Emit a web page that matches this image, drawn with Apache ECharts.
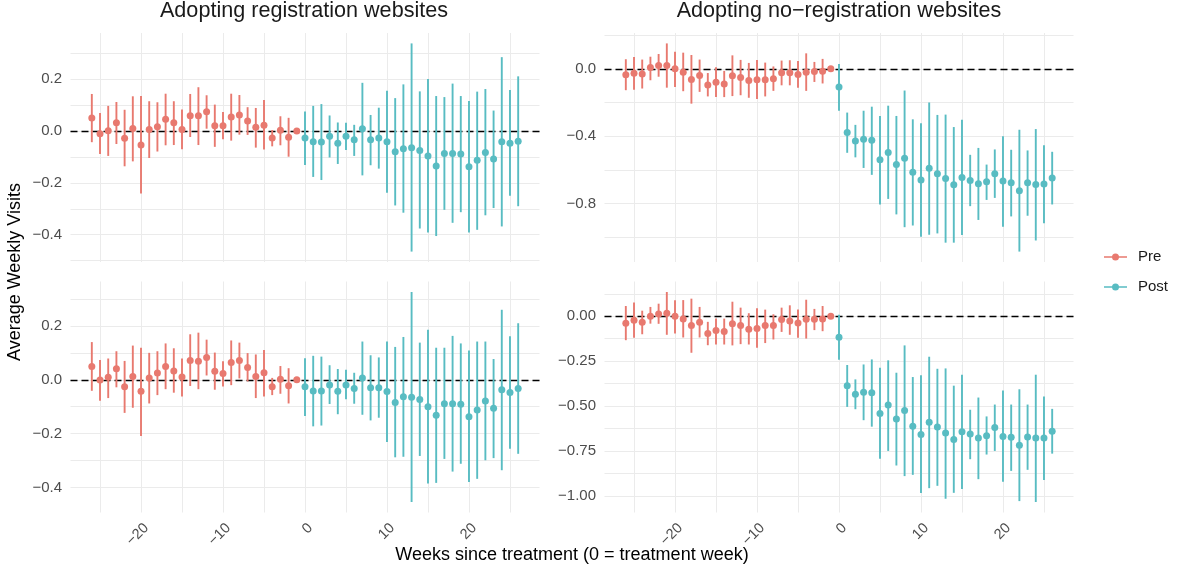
<!DOCTYPE html>
<html><head><meta charset="utf-8">
<script src="https://cdn.jsdelivr.net/npm/echarts@6/dist/echarts.min.js"></script>
<style>html,body{margin:0;padding:0;background:#fff}#c{width:1177px;height:572px}</style>
</head><body><div id="c"></div>
<script>
const weeks = [-26,-25,-24,-23,-22,-21,-20,-19,-18,-17,-16,-15,-14,-13,-12,-11,-10,-9,-8,-7,-6,-5,-4,-3,-2,-1,
  0,1,2,3,4,5,6,7,8,9,10,11,12,13,14,15,16,17,18,19,20,21,22,23,24,25,26];

// Top-left: Adopting registration websites (panel 1)
const regTopEst = [0.050,-0.010,0.001,0.032,-0.028,0.010,-0.054,0.006,0.017,0.045,0.032,0.006,0.059,0.059,0.074,0.020,0.020,0.054,0.062,0.039,0.015,0.022,-0.027,0.003,-0.024,0,
  -0.027,-0.041,-0.042,-0.020,-0.047,-0.020,-0.034,0.009,-0.034,-0.027,-0.041,-0.080,-0.068,-0.064,-0.075,-0.096,-0.135,-0.087,-0.087,-0.089,-0.138,-0.113,-0.083,-0.108,-0.041,-0.047,-0.039];
const regTopLo = [-0.043,-0.089,-0.096,-0.050,-0.136,-0.117,-0.241,-0.104,-0.079,-0.055,-0.054,-0.070,-0.023,-0.054,0.009,-0.061,-0.032,-0.037,-0.014,-0.015,-0.064,-0.071,-0.059,-0.055,-0.099,0,
  -0.131,-0.177,-0.189,-0.102,-0.127,-0.073,-0.096,-0.171,-0.132,-0.145,-0.238,-0.287,-0.315,-0.465,-0.376,-0.391,-0.405,-0.304,-0.354,-0.313,-0.391,-0.381,-0.325,-0.297,-0.368,-0.250,-0.290];
const regTopHi = [0.143,0.070,0.097,0.112,0.082,0.134,0.135,0.115,0.111,0.144,0.115,0.083,0.143,0.169,0.138,0.102,0.073,0.144,0.139,0.092,0.089,0.120,0.004,0.057,0.051,0,
  0.075,0.097,0.104,0.060,0.033,0.032,0.024,0.186,0.062,0.090,0.155,0.127,0.180,0.338,0.153,0.201,0.135,0.131,0.183,0.135,0.116,0.152,0.162,0.079,0.285,0.158,0.211];

// Top-right: Adopting no-registration websites (panel 2)
const noregTopEst = [-0.035,-0.027,-0.031,0.008,0.020,0.020,0.000,-0.020,-0.063,-0.039,-0.096,-0.080,-0.090,-0.041,-0.051,-0.070,-0.065,-0.065,-0.059,-0.023,-0.023,-0.033,-0.020,-0.016,-0.014,0,
  -0.108,-0.378,-0.429,-0.419,-0.425,-0.540,-0.497,-0.569,-0.532,-0.614,-0.661,-0.591,-0.624,-0.652,-0.689,-0.646,-0.663,-0.683,-0.671,-0.624,-0.667,-0.677,-0.724,-0.677,-0.687,-0.685,-0.648];
const noregTopLo = [-0.127,-0.125,-0.117,-0.068,-0.047,-0.112,-0.108,-0.133,-0.207,-0.137,-0.164,-0.168,-0.168,-0.162,-0.157,-0.172,-0.180,-0.164,-0.131,-0.098,-0.098,-0.112,-0.131,-0.078,-0.087,0,
  -0.249,-0.499,-0.526,-0.589,-0.630,-0.806,-0.773,-0.865,-0.941,-0.931,-0.998,-0.986,-0.978,-1.033,-1.033,-0.988,-0.816,-0.898,-0.779,-0.767,-0.939,-0.877,-1.086,-0.873,-1.020,-0.918,-0.806];
const noregTopHi = [0.057,0.070,0.055,0.072,0.088,0.151,0.102,0.096,0.082,0.055,-0.025,0.010,-0.012,0.080,0.053,0.035,0.053,0.037,0.014,0.049,0.051,0.047,0.092,0.041,0.059,0,
  0.029,-0.260,-0.333,-0.249,-0.225,-0.280,-0.219,-0.280,-0.129,-0.300,-0.323,-0.200,-0.274,-0.272,-0.346,-0.303,-0.511,-0.470,-0.569,-0.479,-0.401,-0.481,-0.362,-0.485,-0.358,-0.454,-0.493];

// Bottom-left: Adopting registration websites (panel 3)
const regBotEst = [0.049,-0.001,0.009,0.041,-0.026,0.012,-0.043,0.007,0.025,0.049,0.033,0.010,0.072,0.069,0.083,0.032,0.023,0.064,0.072,0.046,0.012,0.026,-0.026,0.002,-0.022,0,
  -0.026,-0.042,-0.042,-0.019,-0.043,-0.019,-0.032,0.007,-0.030,-0.030,-0.044,-0.084,-0.063,-0.065,-0.073,-0.100,-0.132,-0.089,-0.089,-0.091,-0.137,-0.112,-0.079,-0.106,-0.037,-0.047,-0.032];
const regBotLo = [-0.041,-0.078,-0.068,-0.028,-0.123,-0.104,-0.209,-0.088,-0.057,-0.035,-0.048,-0.062,-0.023,-0.035,0.016,-0.037,-0.025,-0.020,0.005,-0.006,-0.068,-0.062,-0.057,-0.052,-0.088,0,
  -0.135,-0.173,-0.170,-0.090,-0.128,-0.072,-0.089,-0.130,-0.151,-0.141,-0.231,-0.288,-0.286,-0.454,-0.283,-0.385,-0.383,-0.294,-0.341,-0.312,-0.380,-0.368,-0.299,-0.291,-0.336,-0.256,-0.275];
const regBotHi = [0.140,0.073,0.079,0.106,0.070,0.127,0.119,0.100,0.106,0.135,0.117,0.079,0.169,0.175,0.149,0.101,0.069,0.146,0.138,0.099,0.094,0.111,0.007,0.051,0.043,0,
  0.080,0.089,0.086,0.054,0.040,0.037,0.026,0.142,0.091,0.083,0.142,0.122,0.159,0.326,0.138,0.186,0.119,0.119,0.163,0.135,0.109,0.142,0.142,0.077,0.260,0.162,0.210];

// Bottom-right: Adopting no-registration websites (panel 4)
const noregBotEst = [-0.039,-0.022,-0.033,0.000,0.013,0.017,0.000,-0.015,-0.052,-0.033,-0.096,-0.079,-0.085,-0.042,-0.052,-0.072,-0.068,-0.052,-0.052,-0.018,-0.026,-0.037,-0.017,-0.017,-0.015,0,
  -0.116,-0.386,-0.434,-0.423,-0.426,-0.541,-0.494,-0.572,-0.524,-0.611,-0.657,-0.590,-0.616,-0.649,-0.685,-0.642,-0.655,-0.677,-0.664,-0.618,-0.668,-0.673,-0.718,-0.672,-0.677,-0.677,-0.640];
const noregBotLo = [-0.133,-0.120,-0.100,-0.041,-0.042,-0.103,-0.096,-0.118,-0.203,-0.118,-0.161,-0.157,-0.157,-0.162,-0.155,-0.157,-0.175,-0.149,-0.129,-0.087,-0.103,-0.120,-0.124,-0.077,-0.083,0,
  -0.242,-0.504,-0.517,-0.578,-0.614,-0.793,-0.749,-0.830,-0.889,-0.882,-0.983,-0.956,-0.943,-1.015,-0.982,-0.961,-0.795,-0.906,-0.769,-0.749,-0.921,-0.860,-1.028,-0.854,-1.033,-0.910,-0.764];
const noregBotHi = [0.057,0.077,0.031,0.052,0.070,0.135,0.089,0.090,0.098,0.052,-0.031,-0.013,-0.013,0.081,0.048,0.017,0.044,0.037,0.011,0.048,0.061,0.037,0.092,0.041,0.057,0,
  0.009,-0.271,-0.351,-0.268,-0.240,-0.286,-0.245,-0.314,-0.162,-0.338,-0.328,-0.225,-0.292,-0.290,-0.386,-0.325,-0.520,-0.452,-0.557,-0.491,-0.413,-0.491,-0.406,-0.491,-0.325,-0.446,-0.515];

const panelTitles = ['Adopting registration websites', 'Adopting no\u2212registration websites'];
const groupNames = ['Pre', 'Post'];
const xLabelTicks = [-20, -10, 0, 10, 20];
const xGridTicks = [-25, -20, -15, -10, -5, 0, 5, 10, 15, 20, 25];
const yLabelTicksTL = [-0.4, -0.2, 0, 0.2];
const yGridTicksTL = [-0.5, -0.4, -0.3, -0.2, -0.1, 0, 0.1, 0.2, 0.3];
const yLabelTicksTR = [-0.8, -0.4, 0];
const yGridTicksTR = [-1.0, -0.8, -0.6, -0.4, -0.2, 0, 0.2];
const yLabelTicksBL = [-0.4, -0.2, 0, 0.2];
const yGridTicksBL = [-0.4, -0.3, -0.2, -0.1, 0, 0.1, 0.2, 0.3];
const yLabelTicksBR = [-1.0, -0.75, -0.5, -0.25, 0];
const yGridTicksBR = [-1.0, -0.875, -0.75, -0.625, -0.5, -0.375, -0.25, -0.125, 0, 0.125];

const FONT = "'Liberation Sans', Arial, Helvetica, sans-serif";
const COL_PRE = '#E8796F';
const COL_POST = '#58BCC2';
const GRIDCOL = '#EBEBEB';
const TXT = '#4D4D4D';

const panels = [
  {est: regTopEst, lo: regTopLo, hi: regTopHi, grid: {left: 70.5, top: 33, width: 469, height: 229}, yl: yLabelTicksTL, yg: yGridTicksTL, dec: 1, xlab: false},
  {est: noregTopEst, lo: noregTopLo, hi: noregTopHi, grid: {left: 604.5, top: 33, width: 469, height: 229}, yl: yLabelTicksTR, yg: yGridTicksTR, dec: 1, xlab: false},
  {est: regBotEst, lo: regBotLo, hi: regBotHi, grid: {left: 70.5, top: 281.5, width: 469, height: 231}, yl: yLabelTicksBL, yg: yGridTicksBL, dec: 1, xlab: true},
  {est: noregBotEst, lo: noregBotLo, hi: noregBotHi, grid: {left: 604.5, top: 281.5, width: 469, height: 231}, yl: yLabelTicksBR, yg: yGridTicksBR, dec: 2, xlab: true}
];

const minus = s => String(s).replace(/-/g, '\u2212');
const xSpan = weeks[weeks.length - 1] - weeks[0];
const xMin = weeks[0] - 0.05 * xSpan, xMax = weeks[weeks.length - 1] + 0.05 * xSpan;

const grids = [], xAxes = [], yAxes = [], series = [];
panels.forEach((p, i) => {
  grids.push(Object.assign({containLabel: false}, p.grid));
  const lo = Math.min(...p.lo, ...p.est), hi = Math.max(...p.hi, ...p.est);
  const span = hi - lo;
  xAxes.push({
    type: 'value', gridIndex: i, min: xMin, max: xMax,
    axisLine: {show: false}, axisTick: {show: false, customValues: xGridTicks},
    splitLine: {show: true, lineStyle: {color: GRIDCOL, width: 1}},
    axisLabel: {show: p.xlab, customValues: xLabelTicks, rotate: 45, margin: 8, verticalAlign: 'top', color: TXT, fontSize: 14.5, fontFamily: FONT, formatter: v => minus(v)}
  });
  yAxes.push({
    type: 'value', gridIndex: i, min: lo - 0.05 * span, max: hi + 0.05 * span,
    axisLine: {show: false}, axisTick: {show: false, customValues: p.yg},
    splitLine: {show: true, lineStyle: {color: GRIDCOL, width: 1}},
    axisLabel: {show: true, customValues: p.yl, margin: 8.5, color: TXT, fontSize: 15, fontFamily: FONT, formatter: v => minus(Number(v).toFixed(p.dec))}
  });
  const rows = weeks.map((w, k) => [w, p.lo[k], p.hi[k], p.est[k]]);
  const groups = [rows.filter(r => r[0] < 0), rows.filter(r => r[0] >= 0)];
  groups.forEach((data, g) => {
    const col = g === 0 ? COL_PRE : COL_POST;
    const bar = {
      name: groupNames[g], type: 'custom', xAxisIndex: i, yAxisIndex: i, data: data,
      encode: {x: 0, y: [1, 2]}, itemStyle: {color: col}, z: 3, silent: true,
      renderItem: (params, api) => {
        const a = api.coord([api.value(0), api.value(1)]);
        const b = api.coord([api.value(0), api.value(2)]);
        return {type: 'line', shape: {x1: a[0], y1: a[1], x2: b[0], y2: b[1]}, style: {stroke: col, lineWidth: 1.9}};
      }
    };
    if (g === 0) {
      bar.markLine = {
        silent: true, symbol: ['none', 'none'], label: {show: false}, z: 2,
        lineStyle: {color: '#000', type: [7, 4], width: 1.4},
        data: [{yAxis: 0}]
      };
    }
    series.push(bar);
    series.push({
      name: groupNames[g], type: 'scatter', xAxisIndex: i, yAxisIndex: i,
      data: data.map(r => [r[0], r[3]]), symbol: 'circle', symbolSize: 7,
      itemStyle: {color: col, opacity: 1}, z: 4, silent: true
    });
  });
});

const chart = echarts.init(document.getElementById('c'), null, {renderer: 'canvas'});
chart.setOption({
  animation: false,
  backgroundColor: '#fff',
  grid: grids, xAxis: xAxes, yAxis: yAxes, series: series,
  legend: {
    data: groupNames, orient: 'vertical', left: 1104, top: 249.5, padding: 0,
    itemWidth: 23, itemHeight: 7, itemGap: 15,
    icon: 'path://M0,3.3H23V4.7H0Z M15,4A3.5,3.5,0,1,1,8,4A3.5,3.5,0,1,1,15,4Z',
    textStyle: {fontSize: 15, fontFamily: FONT, color: '#1A1A1A', padding: [0, 0, 0, 6]},
    selectedMode: false
  },
  graphic: [
    {type: 'text', x: 304, y: 11, style: {text: panelTitles[0], align: 'center', verticalAlign: 'middle', fontSize: 21.6, fontFamily: FONT, fill: '#1A1A1A'}},
    {type: 'text', x: 839, y: 11, style: {text: panelTitles[1], align: 'center', verticalAlign: 'middle', fontSize: 21.6, fontFamily: FONT, fill: '#1A1A1A'}},
    {type: 'text', x: 572, y: 555, style: {text: 'Weeks since treatment (0 = treatment week)', align: 'center', verticalAlign: 'middle', fontSize: 18, fontFamily: FONT, fill: '#000'}},
    {type: 'text', x: 15, y: 272, rotation: Math.PI / 2, style: {text: 'Average Weekly Visits', align: 'center', verticalAlign: 'middle', fontSize: 18, fontFamily: FONT, fill: '#000'}}
  ]
});
</script>
</body></html>
